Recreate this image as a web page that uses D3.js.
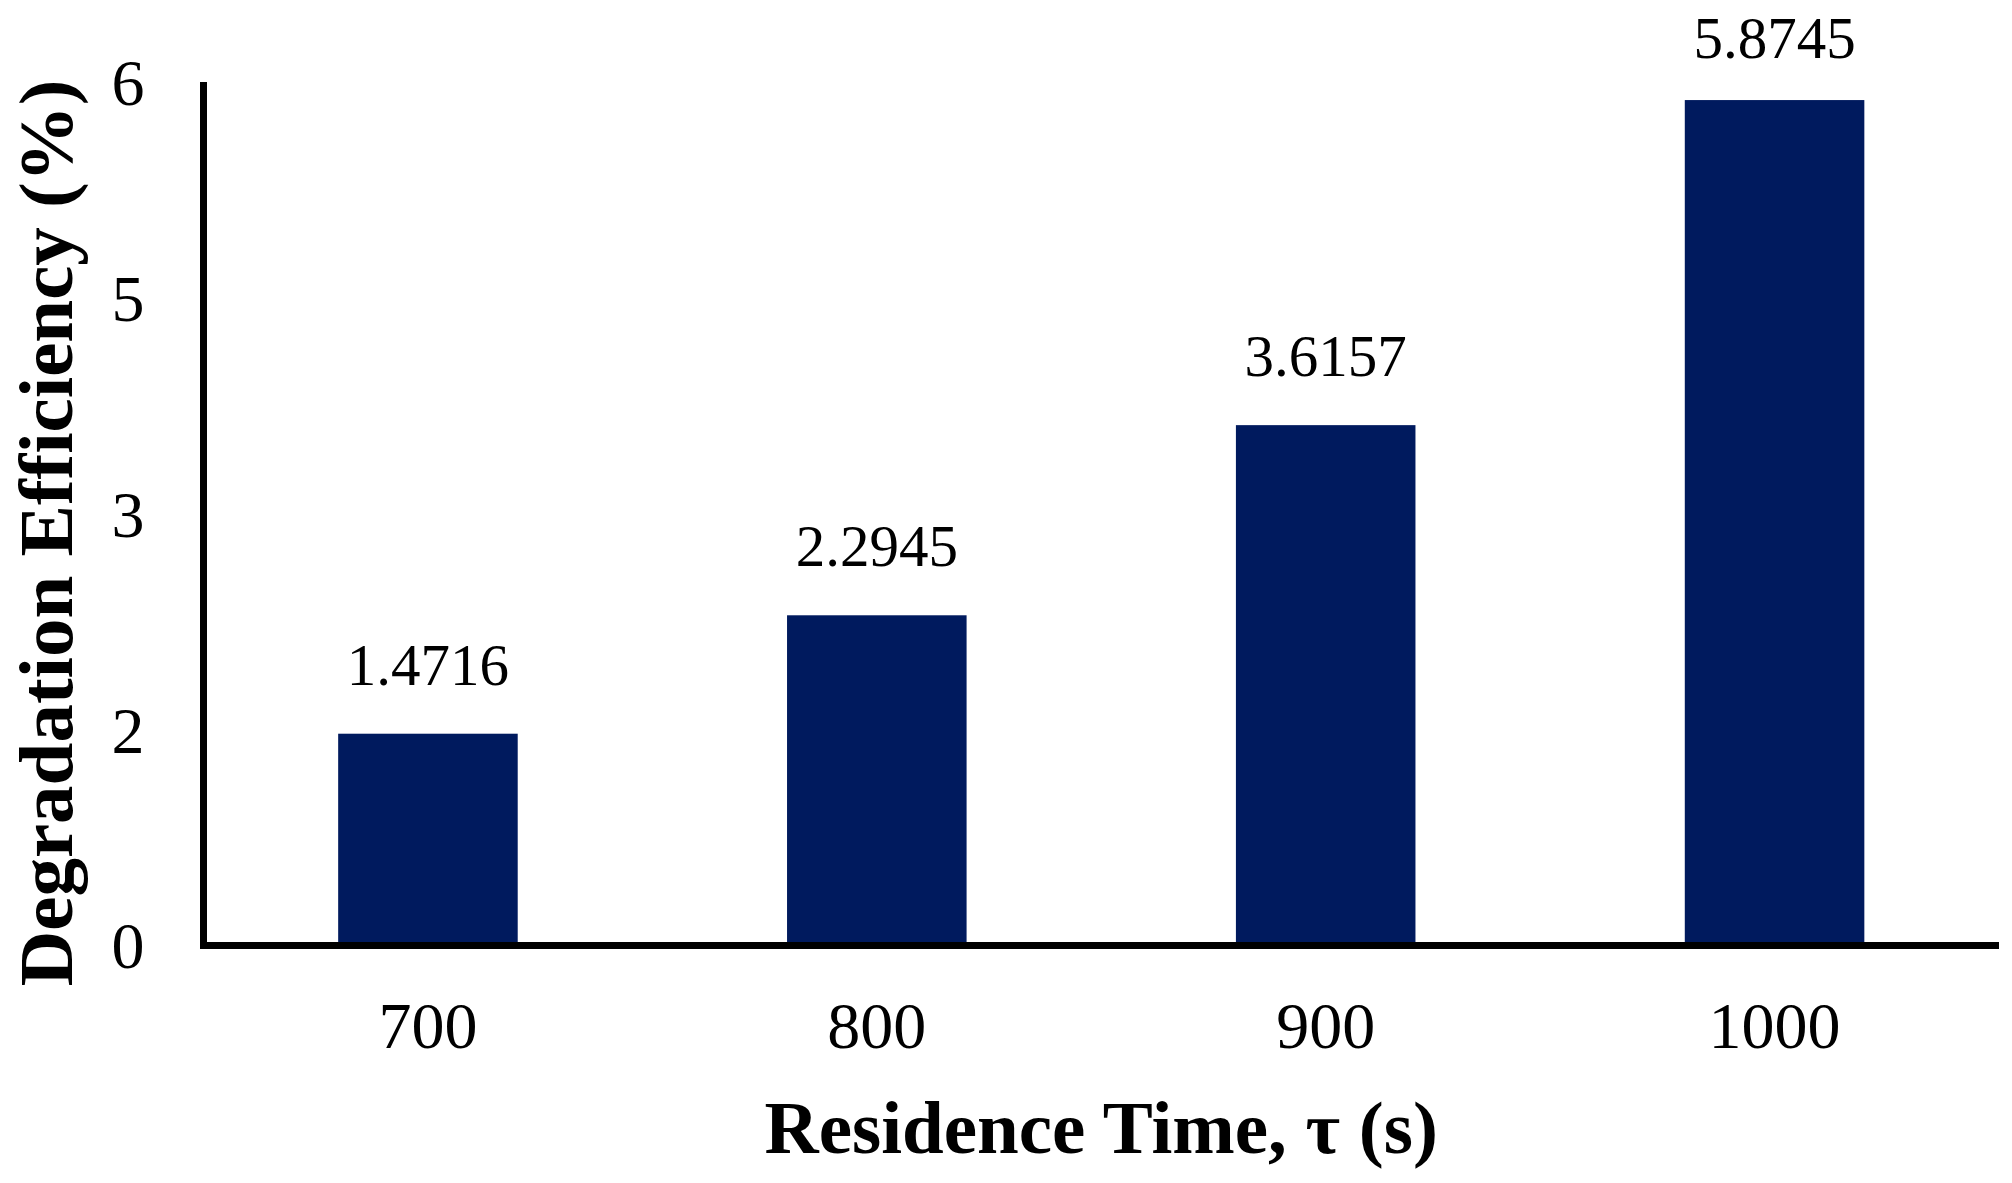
<!DOCTYPE html>
<html>
<head>
<meta charset="utf-8">
<script src="https://cdn.jsdelivr.net/npm/d3@7"></script>
<style>
  html, body { margin: 0; padding: 0; background: #fff; }
  svg { display: block; }
  text { font-family: "Times New Roman", "Liberation Serif", serif; fill: #000; }
</style>
</head>
<body>
<svg id="chart" width="2012" height="1183"></svg>
<script>
const categories = ["700", "800", "900", "1000"];
const values = [1.4716, 2.2945, 3.6157, 5.8745];
const valueLabels = ["1.4716", "2.2945", "3.6157", "5.8745"];
const yTickValues = [0, 1.5, 3, 4.5, 6];
const yTickLabels = ["0", "2", "3", "5", "6"];
const xTitle = "Residence Time, τ (s)";
const yTitle = "Degradation Efficiency (%)";

(function () {
const svg = d3.select("#chart");
const pLeft = 203.5, pRight = 1999, pTop = 82, pBottom = 945.5;

const x = d3.scaleBand().domain(categories).range([pLeft, pRight])
  .paddingInner(0.6).paddingOuter(0.3);
const y = d3.scaleLinear().domain([0, 6]).range([pBottom, pTop]);

// bars
svg.append("g").selectAll("rect").data(values).join("rect")
  .attr("x", (d, i) => x(categories[i]))
  .attr("width", x.bandwidth())
  .attr("y", d => y(d))
  .attr("height", d => y(0) - y(d))
  .attr("fill", "#001a5e");

// data labels
svg.append("g").selectAll("text").data(values).join("text")
  .attr("x", (d, i) => x(categories[i]) + x.bandwidth() / 2)
  .attr("y", d => Math.max(y(d) - 49, 58))
  .attr("text-anchor", "middle")
  .attr("font-size", 59)
  .text((d, i) => valueLabels[i]);

// y axis
const yAxis = d3.axisLeft(y).tickValues(yTickValues)
  .tickFormat((d, i) => yTickLabels[i]).tickSize(0).tickPadding(59);
const gy = svg.append("g").attr("transform", `translate(${pLeft},0)`).call(yAxis);
gy.select(".domain").attr("stroke", "#000").attr("stroke-width", 7)
  .attr("d", `M0,${pTop}V${pBottom + 3.5}`);
gy.selectAll("text").attr("font-size", 66).attr("font-family", "'Times New Roman','Liberation Serif',serif")
  .attr("dy", "0.34em");

// x axis
const xAxis = d3.axisBottom(x).tickSize(0).tickPadding(56);
const gx = svg.append("g").attr("transform", `translate(0,${pBottom})`).call(xAxis);
gx.select(".domain").attr("stroke", "#000").attr("stroke-width", 7)
  .attr("d", `M${pLeft - 3.5},0H${pRight}`);
gx.selectAll("text").attr("font-size", 66).attr("font-family", "'Times New Roman','Liberation Serif',serif")
  .attr("dy", "0.71em").attr("y", 0)
  .attr("transform", "translate(0,56)");

// titles
svg.append("text")
  .attr("x", (pLeft + pRight) / 2).attr("y", 1153)
  .attr("text-anchor", "middle").attr("font-size", 75).attr("font-weight", "bold")
  .text(xTitle);

svg.append("text")
  .attr("transform", "translate(72,533) rotate(-90)")
  .attr("text-anchor", "middle").attr("font-size", 77).attr("font-weight", "bold")
  .text(yTitle);
})();
</script>
</body>
</html>
